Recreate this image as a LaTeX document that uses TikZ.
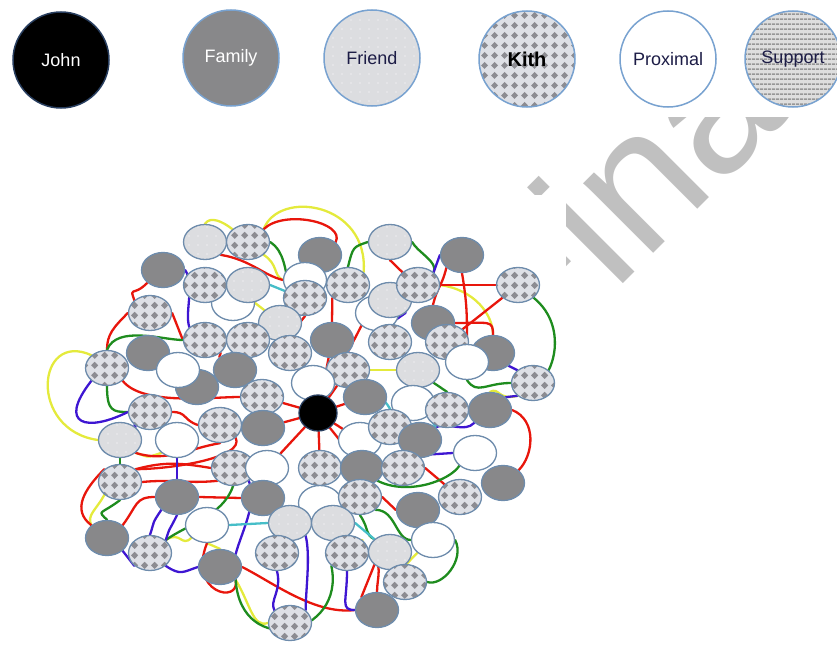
\documentclass[tikz,border=0pt]{standalone}
\usepackage{fontspec}
\setmainfont{Liberation Sans}
\usepackage{tikz}
\usetikzlibrary{shapes.geometric, patterns, backgrounds}
\usepackage{xcolor}
\definecolor{famgrey}{RGB}{136,136,138}
\definecolor{friendgrey}{RGB}{220,221,224}
\definecolor{kithback}{RGB}{222,224,230}
\definecolor{kithdot}{RGB}{140,140,146}
\definecolor{supportback}{RGB}{222,222,222}
\definecolor{supportline}{RGB}{150,150,150}
\definecolor{nodeedge}{RGB}{110,140,172}
\definecolor{legendedge}{RGB}{120,162,208}
\definecolor{johnedge}{RGB}{40,62,95}
\definecolor{inkblue}{RGB}{28,28,70}
\definecolor{wmgrey}{RGB}{192,192,192}
\definecolor{linkred}{RGB}{232,22,12}
\definecolor{linkgreen}{RGB}{30,140,30}
\definecolor{linkblue}{RGB}{62,22,210}
\definecolor{linkyellow}{RGB}{228,234,60}
\definecolor{linkcyan}{RGB}{70,190,200}

% fill patterns of the tie types
\pgfdeclarepatternformonly{kithdots}{\pgfpointorigin}{\pgfqpoint{10pt}{10pt}}{\pgfqpoint{10pt}{10pt}}{%
  \pgfpathmoveto{\pgfqpoint{5pt}{1.2pt}}%
  \pgfpathlineto{\pgfqpoint{8.8pt}{5pt}}%
  \pgfpathlineto{\pgfqpoint{5pt}{8.8pt}}%
  \pgfpathlineto{\pgfqpoint{1.2pt}{5pt}}%
  \pgfpathclose\pgfusepath{fill}}
\pgfdeclarepatternformonly{supportlines}{\pgfpointorigin}{\pgfqpoint{4pt}{5pt}}{\pgfqpoint{4pt}{5pt}}{%
  \pgfpathrectangle{\pgfpointorigin}{\pgfqpoint{4pt}{1.8pt}}\pgfusepath{fill}}
\pgfdeclarepatternformonly{frienddots}{\pgfqpoint{-1pt}{-1pt}}{\pgfqpoint{1pt}{1pt}}{\pgfqpoint{9pt}{9pt}}{%
  \pgfpathcircle{\pgfpointorigin}{0.7pt}\pgfusepath{fill}}

\begin{document}
\begin{tikzpicture}[x=1pt, y=-1pt,
    legend/.style={circle, draw=legendedge, line width=1.5pt, minimum size=96pt,
                   inner sep=0pt, font=\fontsize{18}{20}\selectfont},
    tie/.style={ellipse, draw=nodeedge, line width=1.3pt, minimum width=43pt,
                minimum height=35pt, inner sep=0pt},
    fam/.style={tie, fill=famgrey},
    fri/.style={tie, preaction={fill=friendgrey}, pattern=frienddots, pattern color=white},
    kit/.style={tie, preaction={fill=kithback}, pattern=kithdots, pattern color=kithdot},
    pro/.style={tie, fill=white},
    ego/.style={ellipse, draw=johnedge, fill=black, line width=1.3pt, minimum width=38pt,
                minimum height=36pt, inner sep=0pt},
    link/.style={line width=2.3pt, line cap=round, line join=round},
    redlink/.style={link, draw=linkred},
    greenlink/.style={link, draw=linkgreen},
    bluelink/.style={link, draw=linkblue},
    yellowlink/.style={link, draw=linkyellow},
    cyanlink/.style={link, draw=linkcyan},
    watermark/.style={text=wmgrey, inner sep=0pt, font=\fontsize{187}{187}\selectfont}
  ]
  \useasboundingbox (0,0) rectangle (837,650);

  % watermark
  \begin{scope}[even odd rule]
    \clip (0,0) rectangle (837,650) (0,0) rectangle (837,117) (38,194) rectangle (566,650);
    \node[watermark, rotate=45, anchor=base west] (wmark) at (534,373) {Final};
  \end{scope}

  % legend
  \node[legend, fill=black, draw=johnedge, text=white] (legJohn) at (61,60) {John};
  \node[legend, fill=famgrey, text=white] (legFamily) at (231,58) {Family};
  \node[legend, preaction={fill=friendgrey}, pattern=frienddots, pattern color=white,
        text=inkblue] (legFriend) at (372,58) {Friend};
  \node[legend, preaction={fill=kithback}, pattern=kithdots, pattern color=kithdot,
        font=\fontsize{20}{22}\selectfont\bfseries] (legKith) at (527,59) {Kith};
  \node[legend, fill=white, text=inkblue] (legProximal) at (668,59) {Proximal};
  \node[legend, preaction={fill=supportback}, pattern=supportlines, pattern color=supportline,
        text=inkblue] (legSupport) at (793,59) {Support};

  % network of ties
  \node[fri] (fri1) at (205,242) {};
  \node[kit] (kit1) at (248,242) {};
  \node[fam] (fam1) at (163,270) {};
  \node[fam] (fam2) at (320,255) {};
  \node[fri] (fri2) at (390,242) {};
  \node[fam] (fam3) at (462,255) {};
  \node[pro] (pro1) at (233,303) {};
  \node[kit] (kit2) at (205,285) {};
  \node[fri] (fri3) at (248,285) {};
  \node[pro] (pro2) at (305,280) {};
  \node[kit] (kit3) at (305,298) {};
  \node[kit] (kit4) at (348,285) {};
  \node[pro] (pro3) at (377,313) {};
  \node[fri] (fri4) at (390,300) {};
  \node[kit] (kit5) at (418,285) {};
  \node[kit] (kit6) at (518,285) {};
  \node[kit] (kit7) at (150,313) {};
  \node[fri] (fri5) at (280,323) {};
  \node[fam] (fam4) at (433,323) {};
  \node[kit] (kit8) at (447,342) {};
  \node[fam] (fam5) at (493,353) {};
  \node[pro] (pro4) at (467,362) {};
  \node[kit] (kit9) at (205,340) {};
  \node[kit] (kit10) at (248,340) {};
  \node[fam] (fam6) at (332,340) {};
  \node[kit] (kit11) at (390,342) {};
  \node[kit] (kit12) at (290,353) {};
  \node[fam] (fam7) at (148,353) {};
  \node[fam] (fam8) at (197,387) {};
  \node[pro] (pro5) at (178,370) {};
  \node[kit] (kit13) at (107,368) {};
  \node[fam] (fam9) at (235,370) {};
  \node[kit] (kit14) at (348,370) {};
  \node[fri] (fri6) at (418,370) {};
  \node[pro] (pro6) at (313,383) {};
  \node[kit] (kit15) at (262,397) {};
  \node[fam] (fam10) at (365,397) {};
  \node[kit] (kit16) at (533,383) {};
  \node[pro] (pro7) at (413,403) {};
  \node[fam] (fam11) at (490,410) {};
  \node[kit] (kit17) at (447,410) {};
  \node[kit] (kit18) at (150,412) {};
  \node[kit] (kit19) at (220,425) {};
  \node[fam] (fam12) at (263,428) {};
  \node[fri] (fri7) at (120,440) {};
  \node[pro] (pro8) at (177,440) {};
  \node[pro] (pro9) at (360,440) {};
  \node[kit] (kit20) at (390,427) {};
  \node[fam] (fam13) at (420,440) {};
  \node[pro] (pro10) at (475,453) {};
  \node[kit] (kit21) at (120,482) {};
  \node[kit] (kit22) at (233,468) {};
  \node[pro] (pro11) at (267,468) {};
  \node[kit] (kit23) at (320,468) {};
  \node[fam] (fam14) at (362,468) {};
  \node[kit] (kit24) at (403,468) {};
  \node[fam] (fam15) at (503,483) {};
  \node[kit] (kit25) at (460,497) {};
  \node[fam] (fam16) at (177,497) {};
  \node[fam] (fam17) at (263,498) {};
  \node[pro] (pro12) at (320,503) {};
  \node[kit] (kit26) at (360,497) {};
  \node[fam] (fam18) at (418,510) {};
  \node[pro] (pro13) at (207,525) {};
  \node[fri] (fri8) at (290,523) {};
  \node[fri] (fri9) at (333,523) {};
  \node[pro] (pro14) at (433,540) {};
  \node[fam] (fam19) at (107,538) {};
  \node[kit] (kit27) at (150,553) {};
  \node[kit] (kit28) at (277,553) {};
  \node[kit] (kit29) at (347,553) {};
  \node[fri] (fri10) at (390,552) {};
  \node[fam] (fam20) at (220,567) {};
  \node[kit] (kit30) at (405,582) {};
  \node[fam] (fam21) at (377,610) {};
  \node[kit] (kit31) at (290,623) {};
  \node[ego] (john) at (318,413) {};

  \begin{scope}[on background layer]
    % yellow ties
    \draw[yellowlink] (kit1.north east) .. controls +(15,-40) and +(5,-70) .. (kit4.north east);
    \draw[yellowlink] (fri1.north) .. controls +(5,-8) and +(-10,-8) .. (kit1.north west);
    \draw[yellowlink] (kit13.north west) .. controls +(-55,-25) and +(-70,-10) .. (fri7.west);
    \draw[yellowlink] (kit1.south east) .. controls +(15,10) and +(-10,-5) .. (pro2.west);
    \draw[yellowlink] (kit5.east) .. controls +(35,5) and +(0,-20) .. (fam5.north);
    \draw[yellowlink] (fam20.south east) .. controls +(15,25) and +(-15,5) .. (kit31.west);
    \draw[yellowlink] (kit21.south west) .. controls +(-8,15) and +(-5,-10) .. (fam19.north west);
    \draw[yellowlink] (kit27.north east) .. controls +(15,-10) and +(-10,10) .. (pro13.south west);
    \draw[yellowlink] (fri7.south east) .. controls +(15,5) and +(-15,5) .. (pro8.south west);
    \draw[yellowlink] (kit29.north east) -- (fri9.south);
    \draw[yellowlink] (fri10.south east) -- (pro14.south west);
    \draw[yellowlink] (kit16.south west) .. controls +(-20,5) and +(10,-5) .. (fam11.north);
    \draw[yellowlink] (pro1.east) -- (fri5.north west);
    \draw[yellowlink] (kit14.east) -- (fri6.west);
    \draw[yellowlink] (pro13.south) -- (fam20.north);
    % red ties
    \draw[redlink] (kit1.north east) .. controls +(20,-20) and +(10,-20) .. (fam2.north east);
    \draw[redlink] (fam1.south west) .. controls +(-15,15) and +(-5,-15) .. (kit7.north west);
    \draw[redlink] (kit7.west) .. controls +(-15,15) and +(0,-15) .. (kit13.north);
    \draw[redlink] (kit7.east) -- (kit9.west);
    \draw[redlink] (kit13.south east) .. controls +(20,25) and +(-30,0) .. (kit15.west);
    \draw[redlink] (kit21.north east) .. controls +(30,-8) and +(-30,-5) .. (kit22.west);
    \draw[redlink] (kit21.east) .. controls +(30,-3) and +(-30,3) .. (kit22.south west);
    \draw[redlink] (fri7.south east) .. controls +(30,10) and +(-30,5) .. (kit19.south);
    \draw[redlink] (kit21.north west) .. controls +(-20,20) and +(-20,-15) .. (fam19.north west);
    \draw[redlink] (fam19.north east) .. controls +(15,-20) and +(-20,0) .. (fam16.west);
    \draw[redlink] (pro13.south) .. controls +(-20,50) and +(5,25) .. (fam20.south east);
    \draw[redlink] (fam20.east) .. controls +(30,15) and +(-40,5) .. (fam21.west);
    \draw[redlink] (fam11.east) .. controls +(25,10) and +(15,-15) .. (fam15.north east);
    \draw[redlink] (fam3.south west) .. controls +(-5,20) and +(5,-20) .. (fam4.north);
    \draw[redlink] (fam3.south) .. controls +(5,30) and +(0,-30) .. (pro4.north);
    \draw[redlink] (kit5.east) -- (kit6.west);
    \draw[redlink] (kit8.north east) -- (kit6.south west);
    \draw[redlink] (fam4.east) .. controls +(35,0) and +(0,-15) .. (fam5.north);
    \draw[redlink] (fri1.south east) .. controls +(30,5) and +(-20,-5) .. (pro2.west);
    \draw[redlink] (kit3.south) -- (kit12.north);
    \draw[redlink] (kit4.south west) -- (fam6.north);
    \draw[redlink] (pro3.south west) -- (kit14.north);
    \draw[redlink] (fri2.south) -- (kit5.north west);
    \draw[redlink] (kit24.east) -- (kit25.north west);
    \draw[redlink] (kit29.east) .. controls +(15,10) and +(0,-15) .. (fam21.north);
    \draw[redlink] (fri10.south west) -- (fam21.north west);
    \draw[redlink] (fam16.east) -- (fam17.west);
    \draw[redlink] (kit18.east) .. controls +(15,0) and +(-15,-5) .. (kit19.west);
    \draw[redlink] (kit9.south east) -- (fam9.north west);
    \draw[redlink] (pro7.east) -- (kit17.west);
    \draw[redlink] (kit26.east) -- (fam18.west);
    \draw[redlink] (kit19.south east) .. controls +(10,20) and +(35,0) .. (kit21.north east);
    \foreach \n in {kit12, pro6, kit15, fam12, kit23, fam14, pro9, kit14, fam10, fam6, pro11}
      \draw[redlink] (john) -- (\n);
    % green ties
    \draw[greenlink] (kit13.north) .. controls +(10,-25) and +(-20,0) .. (kit9.west);
    \draw[greenlink] (kit13.south) .. controls +(0,25) and +(-15,0) .. (kit18.west);
    \draw[greenlink] (kit1.east) .. controls +(15,10) and +(-5,-15) .. (kit3.north west);
    \draw[greenlink] (kit4.north) .. controls +(5,-20) and +(-15,5) .. (fri2.west);
    \draw[greenlink] (fri2.east) .. controls +(5,10) and +(5,-10) .. (kit5.north east);
    \draw[greenlink] (kit6.south east) .. controls +(25,20) and +(10,-20) .. (kit16.north east);
    \draw[greenlink] (pro4.south) .. controls +(10,15) and +(-25,0) .. (kit16.west);
    \draw[greenlink] (kit22.south) .. controls +(-10,30) and +(20,-15) .. (kit27.north east);
    \draw[greenlink] (fam20.south east) .. controls +(5,80) and +(15,70) .. (kit29.south west);
    \draw[greenlink] (kit21.south) .. controls +(-20,15) and +(-10,-10) .. (fam19.north);
    \draw[greenlink] (fri7.south) -- (kit21.north);
    \draw[greenlink] (pro14.east) .. controls +(10,20) and +(15,5) .. (kit30.east);
    \draw[greenlink] (fam14.south east) .. controls +(30,15) and +(-10,15) .. (pro10.south west);
    \draw[greenlink] (kit26.south east) .. controls +(20,0) and +(-15,0) .. (pro14.west);
    \draw[greenlink] (fri6.south east) -- (kit17.north);
    \draw[greenlink] (kit26.south) .. controls +(10,15) and +(-10,-5) .. (fri10.north west);
    % blue ties
    \draw[bluelink] (fam1.east) .. controls +(10,15) and +(-5,-15) .. (kit9.north west);
    \draw[bluelink] (kit13.south west) .. controls +(-35,45) and +(-40,20) .. (kit18.west);
    \draw[bluelink] (fam16.south west) .. controls +(-10,15) and +(5,-15) .. (kit27.north);
    \draw[bluelink] (fam16.south) .. controls +(-10,20) and +(5,-15) .. (kit27.north east);
    \draw[bluelink] (kit27.south east) .. controls +(15,10) and +(-15,5) .. (fam20.west);
    \draw[bluelink] (kit22.south east) .. controls +(10,20) and +(5,-20) .. (fam20.north east);
    \draw[bluelink] (kit28.south) .. controls +(5,20) and +(-5,-10) .. (kit31.north west);
    \draw[bluelink] (fri8.south east) .. controls +(5,20) and +(0,-20) .. (kit31.north east);
    \draw[bluelink] (kit29.south) .. controls +(0,30) and +(-15,0) .. (fam21.west);
    \draw[bluelink] (fam13.north east) .. controls +(15,-5) and +(-10,10) .. (fam11.south west);
    \draw[bluelink] (kit24.north east) -- (pro10.west);
    \draw[bluelink] (kit5.north east) -- (fam3.west);
    \draw[bluelink] (fri4.south east) -- (kit11.north);
    \draw[bluelink] (fam5.south east) -- (kit16.north west);
    \draw[bluelink] (fam11.north east) -- (kit16.south west);
    \draw[bluelink] (fri7.north east) -- (kit18.south west);
    \draw[bluelink] (pro8.south) -- (fam16.north);
    \draw[bluelink] (fam19.south east) -- (kit27.south west);
    \draw[bluelink] (pro9.east) -- (fam13.west);
    % cyan ties
    \draw[cyanlink] (kit14.south east) .. controls +(10,10) and +(-5,-10) .. (kit20.north);
    \draw[cyanlink] (pro7.south east) -- (fam13.north east);
    \draw[cyanlink] (pro13.east) -- (fri8.west);
    \draw[cyanlink] (fri9.east) -- (fri10.north west);
    \draw[cyanlink] (fri3.east) -- (pro2.south west);
  \end{scope}
\end{tikzpicture}
\end{document}
